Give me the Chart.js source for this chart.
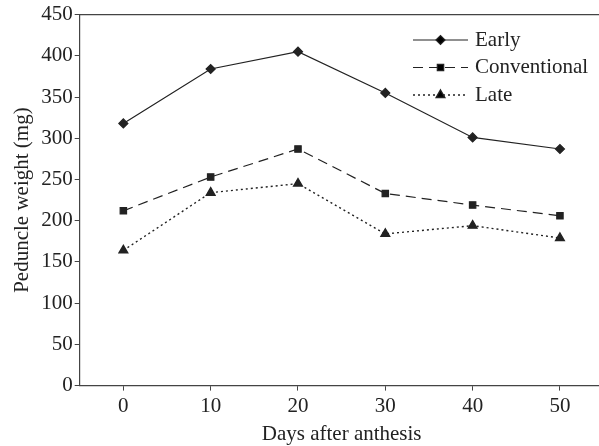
<!DOCTYPE html>
<html>
<head>
<meta charset="utf-8">
<script src="https://cdn.jsdelivr.net/npm/chart.js@4"></script>
<style>
  html, body { margin: 0; padding: 0; background: #fff; overflow: hidden; }
  /* the original figure is cropped on the right, so the canvas runs past the window */
  #wrap { width: 610px; height: 447px; }
</style>
</head>
<body>
<div id="wrap"><canvas id="chart"></canvas></div>
<script>
const days = ['0', '10', '20', '30', '40', '50'];
const early = [318, 384, 405, 355, 301, 287];
const conventional = [212, 253, 287, 233, 219, 206];
const late = [164, 234, 245, 184, 194, 179];
const seriesNames = ['Early', 'Conventional', 'Late'];

const ink = '#222';
const fontFamily = '"Liberation Serif", "Times New Roman", serif';

// legend drawn by hand: line + marker sample, like the original figure
const sampleLegend = {
    id: 'sampleLegend',
    afterDraw(chart) {
        const ctx = chart.ctx;
        const x0 = 413, x1 = 468, top = 40, step = 27.5;
        chart.data.datasets.forEach((ds, i) => {
            const y = top + i * step;
            ctx.save();
            ctx.strokeStyle = ds.borderColor;
            ctx.lineWidth = ds.borderWidth;
            ctx.setLineDash(ds.borderDash || []);
            ctx.beginPath();
            ctx.moveTo(x0, y);
            ctx.lineTo(x1, y);
            ctx.stroke();
            ctx.setLineDash([]);
            Chart.helpers.drawPoint(ctx, {
                pointStyle: ds.pointStyle,
                radius: ds.pointRadius,
                borderWidth: 1
            }, (x0 + x1) / 2, y);
            ctx.fillStyle = ink;
            ctx.font = '21px ' + fontFamily;
            ctx.textBaseline = 'middle';
            ctx.fillText(ds.label, x1 + 7, y);
            ctx.restore();
        });
    }
};

const ctx = document.getElementById('chart').getContext('2d');
const chart = new Chart(ctx, {
    type: 'line',
    data: {
        labels: days,
        datasets: [{
            label: seriesNames[0],
            data: early,
            borderColor: ink,
            borderWidth: 1.2,
            pointStyle: 'rectRot',
            pointRadius: 4.5,
            pointBackgroundColor: ink,
            pointBorderColor: ink
        }, {
            label: seriesNames[1],
            data: conventional,
            borderColor: ink,
            borderWidth: 1.2,
            borderDash: [10, 6],
            pointStyle: 'rect',
            pointRadius: 4.5,
            pointBackgroundColor: ink,
            pointBorderColor: ink
        }, {
            label: seriesNames[2],
            data: late,
            borderColor: ink,
            borderWidth: 1.4,
            borderDash: [2, 3],
            pointStyle: 'triangle',
            pointRadius: 5,
            pointBackgroundColor: ink,
            pointBorderColor: ink
        }]
    },
    options: {
        responsive: true,
        maintainAspectRatio: false,
        animation: false,
        layout: { padding: { top: 9, right: 0, left: 10, bottom: 0 } },
        plugins: {
            legend: { display: false },
            tooltip: { enabled: false }
        },
        scales: {
            x: {
                offset: true,
                grid: { display: true, drawOnChartArea: false, color: '#444', tickLength: 5 },
                border: { color: '#444', width: 1.2 },
                ticks: { color: ink, font: { family: fontFamily, size: 21 }, padding: 3 },
                title: { display: true, text: 'Days after anthesis', color: ink,
                         font: { family: fontFamily, size: 21 }, padding: { top: 0, bottom: 0 } }
            },
            top: {
                type: 'linear',
                position: 'top',
                min: 0, max: 1,
                grid: { display: false, drawTicks: false },
                ticks: { display: false },
                border: { display: true, color: '#444', width: 1.2 }
            },
            y: {
                min: 0,
                max: 450,
                ticks: { stepSize: 50, color: ink, font: { family: fontFamily, size: 21 }, padding: 2 },
                grid: { drawOnChartArea: false, color: '#444', tickLength: 5 },
                border: { color: '#444', width: 1.2 },
                title: { display: true, text: 'Peduncle weight (mg)', color: ink,
                         font: { family: fontFamily, size: 21 }, padding: { top: 0, bottom: 4 } }
            }
        }
    },
    plugins: [sampleLegend]
});
</script>
</body>
</html>
